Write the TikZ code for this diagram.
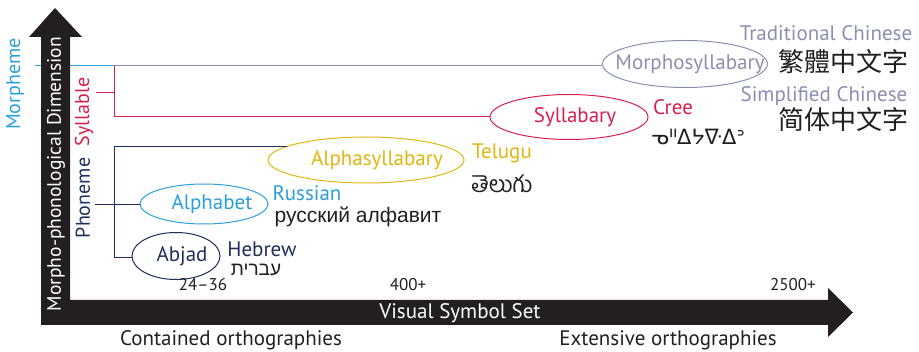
\documentclass[tikz,border=0pt]{standalone}
\usepackage{fontspec}
\setmainfont{PT Sans}
\newfontfamily\tcfont{Noto Sans CJK TC}
\newfontfamily\scfont{Noto Sans CJK SC}
\newfontfamily\rufont{Liberation Sans}
\newfontfamily\hebfont[Script=Hebrew]{Liberation Sans}
\newfontfamily\telfont[Script=Telugu]{Hind Guntur}
\newfontfamily\creefont{DejaVu Sans}
\TeXXeTstate=1
\usetikzlibrary{shapes.geometric}

\definecolor{mblue}{HTML}{2B9FD9}
\definecolor{sred}{HTML}{D91F4F}
\definecolor{pnavy}{HTML}{1F2F5C}
\definecolor{mgray}{HTML}{8A8FB0}
\definecolor{ayellow}{HTML}{E0B60F}
\definecolor{ink}{HTML}{231F20}

\begin{document}
\begin{tikzpicture}[x=1pt,y=-1pt,
  lab/.style={font=\fontsize{21}{23}\selectfont, inner sep=0, text=ink},
  level/.style={font=\fontsize{20}{22}\selectfont, inner sep=0, rotate=90},
  small/.style={font=\fontsize{17}{19}\selectfont, inner sep=0, text=ink},
  oval/.style={ellipse, draw=#1, text=#1, line width=1pt, inner sep=0,
    font=\fontsize{21}{23}\selectfont},
  conn/.style={line width=1pt}]
\useasboundingbox (0,0) rectangle (919,352);

% levels
\node[level, text=mblue] (morpheme) at (15,84) {Morpheme};
\node[level, text=sred] (syllable) at (84,112) {Syllable};
\node[level, text=pnavy] (phoneme) at (83,198) {Phoneme};

% writing systems
\node[oval=mgray, minimum width=165, minimum height=47] (morphosyl) at (685,64) {\makebox[0pt]{\hspace*{10pt}Morphosyllabary}};
\node[oval=sred, minimum width=158, minimum height=45] (syllabary) at (569,117) {\makebox[0pt]{\hspace*{12pt}Syllabary}};
\node[oval=ayellow, minimum width=196, minimum height=46] (alphasyl) at (366,160) {\makebox[0pt]{\hspace*{22pt}Alphasyllabary}};
\node[oval=mblue, minimum width=128, minimum height=40] (alphabet) at (204,204) {\makebox[0pt]{\hspace*{16pt}Alphabet}};
\node[oval=pnavy, minimum width=88, minimum height=47] (abjad) at (176,256) {\makebox[0pt]{\hspace*{12pt}Abjad}};

% brackets
\coordinate (mtick) at (35,66);
\coordinate (stick) at (96,93);
\coordinate (ptick) at (95,205);
\coordinate (sbr) at (114,66);
\coordinate (pbr) at (114,258);
\draw[conn, mblue] (mtick) -- (sbr);
\draw[conn, mgray] (sbr) -- (sbr -| morphosyl.west);
\draw[conn, sred] (stick) -- (stick -| sbr);
\draw[conn, sred] (sbr) |- (syllabary.west);
\draw[conn, pnavy] (alphasyl.170) -| (pbr) -- (pbr -| abjad.west);
\draw[conn, pnavy] (ptick) -- (ptick -| alphabet.west);

% axes
\fill[ink] (41,325) -- (41,37) -- (29,37) -- (55,8) -- (82,37) -- (70,37) -- (70,300)
  -- (828,300) -- (828,288) -- (853,312.5) -- (828,337) -- (828,325) -- cycle;
\node[level, text=white, font=\fontsize{19.5}{21}\selectfont] (ylab) at (56,174) {Morpho-phonological Dimension};
\node[lab, text=white] (xlab) at (460,313) {Visual Symbol Set};
\node[small] (few) at (203,285) {24–36};
\node[small] (mid) at (408,285) {400+};
\node[small] (many) at (793,285) {2500+};
\node[lab] (contained) at (231,340) {Contained orthographies};
\node[lab] (extensive) at (668,340) {Extensive orthographies};

% examples
\node[lab, text=mgray] (tradlab) at (826,33) {Traditional Chinese};
\node[font=\tcfont\fontsize{26}{28}\selectfont, inner sep=0, text=ink] (trad) at (843,62) {繁體中文字};
\node[lab, text=mgray] (simplab) at (824,96) {Simplified Chinese};
\node[font=\scfont\fontsize{26}{28}\selectfont, inner sep=0, text=ink] (simp) at (843,120) {简体中文字};
\node[lab, text=sred] (cree) at (673,107) {Cree};
\node[font=\creefont\fontsize{21}{23}\selectfont, inner sep=0, text=ink] (creetxt) at (698,137) {ᓀᐦᐃᔭᐍᐃᐣ};
\node[lab, text=ayellow] (telugu) at (502,153) {Telugu};
\node[font=\telfont\fontsize{23}{25}\selectfont, inner sep=0, text=ink] (teltxt) at (502,184) {తెలుగు};
\node[lab, text=mblue] (russian) at (307,193) {Russian};
\node[font=\rufont\fontsize{21}{23}\selectfont, inner sep=0, text=ink] (rutxt) at (358,217) {русский алфавит};
\node[lab, text=pnavy] (hebrew) at (262,249) {Hebrew};
\node[font=\hebfont\fontsize{19}{21}\selectfont, inner sep=0, text=ink] (hebtxt) at (256,270) {\beginR עברית\endR};
\end{tikzpicture}
\end{document}
